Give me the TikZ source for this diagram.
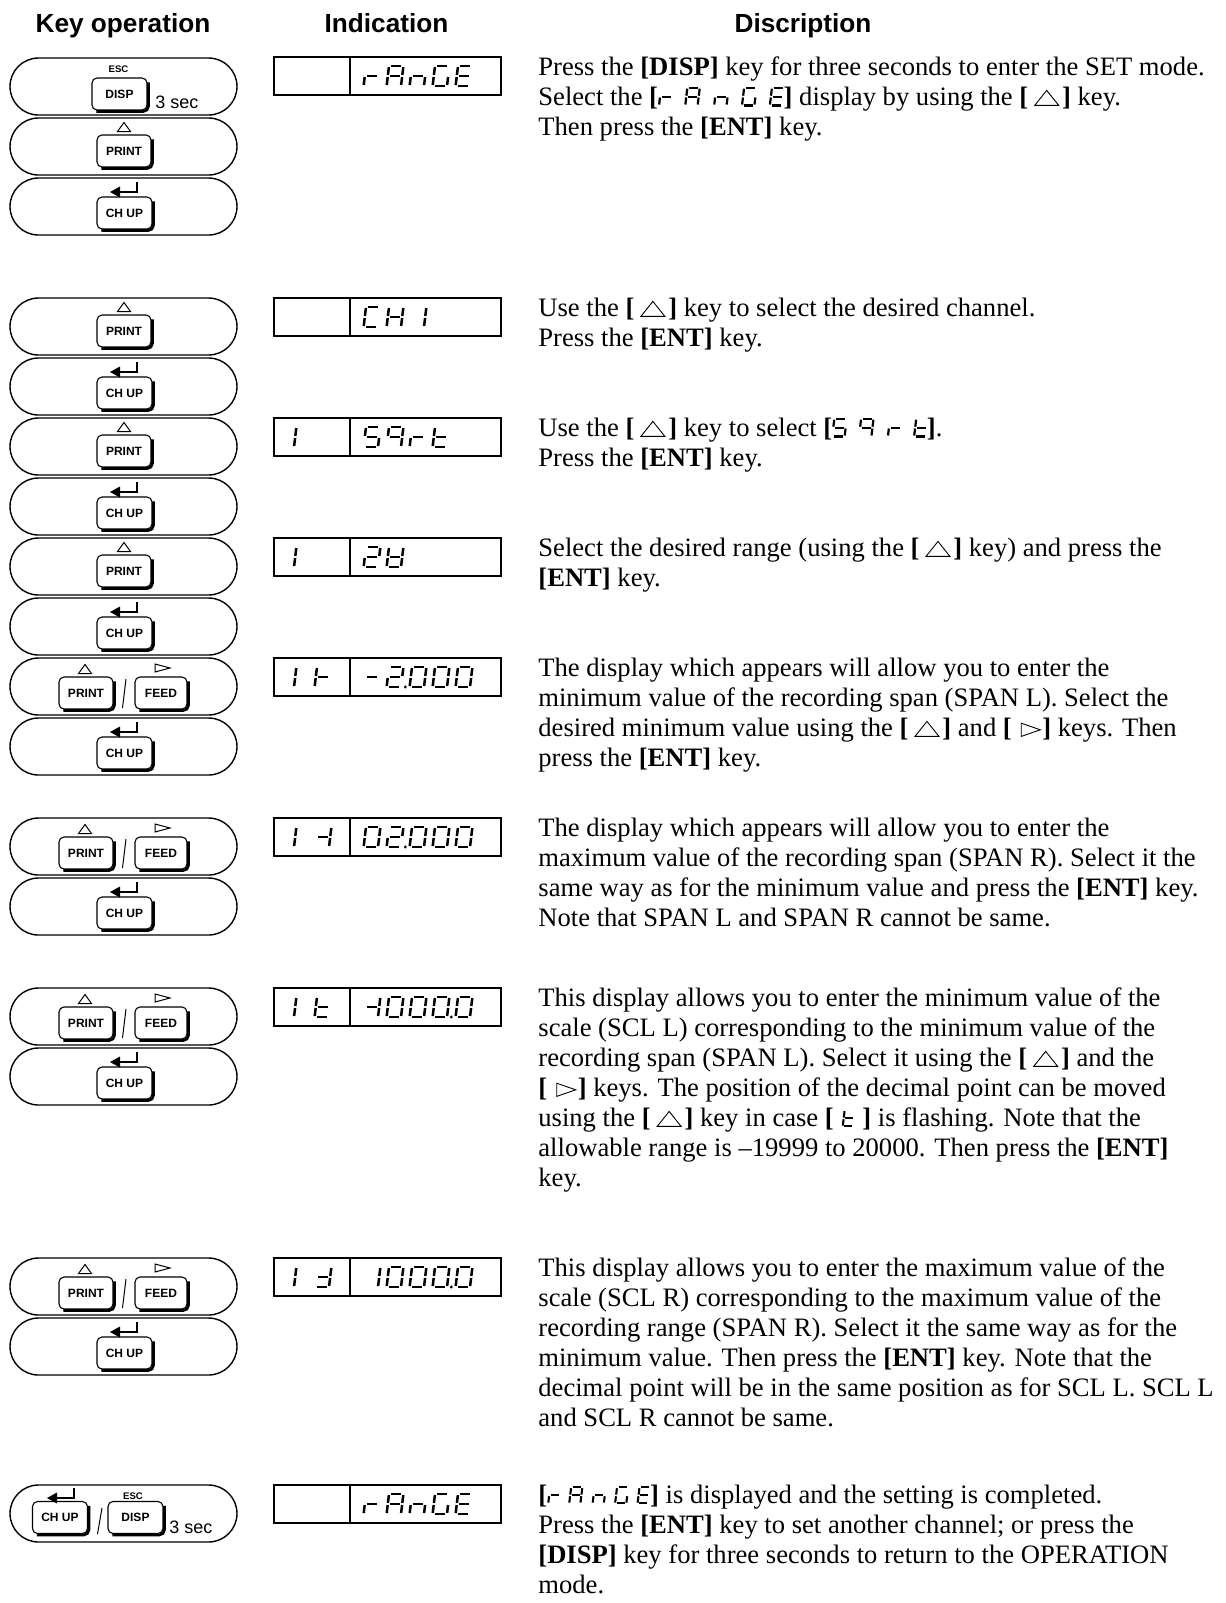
\documentclass[tikz,border=0pt]{standalone}
\usepackage{fontspec}
\setmainfont{Liberation Serif}
\setsansfont{Liberation Sans}
% seven-segment pieces (unit cell x in [-0.5,0.5], y in [-1,1])
\def\segpa{\draw (-0.36,1)--(0.36,1);}
\def\segpb{\draw (0.5,0.9)--(0.5,0.1);}
\def\segpc{\draw (0.5,-0.1)--(0.5,-0.9);}
\def\segpd{\draw (-0.36,-1)--(0.36,-1);}
\def\segpe{\draw (-0.5,-0.1)--(-0.5,-0.9);}
\def\segpf{\draw (-0.5,0.9)--(-0.5,0.1);}
\def\segpg{\draw (-0.36,0)--(0.36,0);}
\def\segpp{\fill (0.8,-1) circle (0.8pt);}
\def\segp{}
\newcommand\glyph[1]{\edef\glist{#1}\foreach \s in \glist {\csname segp\s\endcsname}}
\def\chr{e,g}
\def\cha{a,b,c,e,f,g}
\def\chn{c,e,g}
\def\chG{a,c,d,e,f}
\def\chE{a,d,e,f,g}
\def\chC{a,d,e,f}
\def\chH{b,c,e,f,g}
\def\chone{b,c}
\def\chfive{a,c,d,f,g}
\def\chq{a,b,c,f,g}
\def\cht{d,e,f,g}
\def\chtwo{a,b,d,e,g}
\def\chtwodot{a,b,d,e,g,p}
\def\chV{b,c,d,e,f,g}
\def\chminus{g}
\def\chzero{a,b,c,d,e,f}
\def\chzerodot{a,b,c,d,e,f,p}
\def\chSL{e,f,g}
\def\chSR{b,c,g}
\def\chdd{b,c,d,g}
% display glyph
\newcommand\dg[3]{\begin{scope}[shift={(#1,#2)},x=7.2pt,y=5pt,xslant=0.12,line width=1.25pt]\glyph{#3}\end{scope}}
% inline glyphs (normal and large)
\newcommand\sgi[1]{\tikz[baseline=0pt]{\begin{scope}[x=5.6pt,y=4pt,shift={(0.5,1)},xslant=0.12,line width=1.05pt]\glyph{#1}\end{scope}}}
\newcommand\sgL[1]{\tikz[baseline=0pt]{\begin{scope}[x=6.2pt,y=4.4pt,shift={(0.5,1)},xslant=0.12,line width=1.1pt]\glyph{#1}\end{scope}}}
\newcommand\sgsp{\hspace{4.2pt}}
\newcommand\sgspL{\hspace{6.2pt}}
\newcommand\tup{\tikz[baseline=0pt]\draw[line width=0.45pt] (0pt,0pt)--(12pt,0pt)--(6pt,7.5pt)--cycle;}
\newcommand\trt{\tikz[baseline=0pt]\draw[line width=0.45pt] (0pt,0pt)--(9.5pt,3.3pt)--(0pt,6.6pt)--cycle;}
\newcommand\kUp{\textbf{[}\hspace{3pt}\tup\hspace{1.5pt}\textbf{]}}
\newcommand\kRt{\textbf{[}\hspace{4.5pt}\trt\hspace{0.8pt}\textbf{]}}
\newcommand\kEnt{\textbf{[ENT]}}
\newcommand\kDisp{\textbf{[DISP]}}
\newcommand\kRange{\textbf{[}\sgi{\chr}\sgsp\sgi{\cha}\sgsp\sgi{\chn}\sgsp\sgi{\chG}\sgsp\sgi{\chE}\textbf{]}}
\newcommand\kRangeL{\textbf{[}\sgL{\chr}\sgspL\sgL{\cha}\sgspL\sgL{\chn}\sgspL\sgL{\chG}\sgspL\sgL{\chE}\textbf{]}}
\newcommand\kSqrt{\textbf{[}\sgL{\chfive}\sgspL\sgL{\chq}\sgspL\sgL{\chr}\sgspL\sgL{\cht}\textbf{]}}
\newcommand\kT{\textbf{[}\hspace{4pt}\sgi{\cht}\hspace{4pt}\textbf{]}}
% key drawing helpers
\newcommand\btn[5]{\node[keybtn, minimum width=#4] (#1) at (#2,#3) {#5};
 \draw[line width=1.3pt, rounded corners=2.5pt] ([shift={(0.45pt,-2.5pt)}]#1.north east) -- ([shift={(0.45pt,-0.45pt)}]#1.south east) -- ([shift={(2.5pt,-0.45pt)}]#1.south west);}
\newcommand\tri[2]{\draw[sym] (#1-6.5,#2+4.5)--(#1+6.5,#2+4.5)--(#1,#2-4.5)--cycle;}
\newcommand\rtri[2]{\draw[sym] (#1-7,#2-4)--(#1+8,#2)--(#1-7,#2+4)--cycle;}
\newcommand\enter[2]{\draw[arw] (#1+13,#2-10)--(#1+13,#2)--(#1-5,#2); \fill (#1-14,#2)--(#1-4,#2-5.5)--(#1-4,#2+5.5)--cycle;}
\newcommand\printoval[2]{\node[koval] (#1o) at (123.5,#2+28.5) {}; \tri{124}{#2+9} \btn{#1k}{124}{#2+33}{27pt}{PRINT}}
\newcommand\chupoval[2]{\node[koval] (#1o) at (123.5,#2+28.5) {}; \enter{124}{#2+14} \btn{#1k}{124.5}{#2+35}{27.5pt}{CH UP}}
\newcommand\pfoval[2]{\node[koval] (#1o) at (123.5,#2+28.5) {}; \tri{85}{#2+11} \rtri{162}{#2+10} \btn{#1p}{86}{#2+35}{27pt}{PRINT} \btn{#1f}{161}{#2+35}{26pt}{FEED} \draw[line width=0.5pt] (126,#2+21)--(122.5,#2+50);}
\newcommand\dispbox[1]{\draw[dframe] (274,#1) rectangle (501,#1+38); \draw[ddiv] (350,#1) -- (350,#1+38);}
\begin{document}
\begin{tikzpicture}[x=0.5pt,y=-0.5pt,
 koval/.style={draw, line width=0.7pt, rounded corners=14.25pt, minimum width=113.5pt, minimum height=28.5pt, inner sep=0pt},
 keybtn/.style={draw, line width=0.55pt, rounded corners=2.5pt, minimum height=16pt, inner sep=0pt, font=\sffamily\bfseries\fontsize{6}{7}\selectfont},
 esc/.style={inner sep=0pt, font=\sffamily\bfseries\fontsize{4.8}{6}\selectfont},
 sec/.style={inner sep=0pt, font=\sffamily\fontsize{9}{10}\selectfont},
 hdr/.style={inner sep=0pt, font=\sffamily\bfseries\fontsize{13.1}{15}\selectfont},
 desc/.style={anchor=north west, inner sep=0pt, align=left, font=\fontsize{13.3}{15}\selectfont},
 sym/.style={line width=0.5pt},
 arw/.style={line width=1.1pt},
 dframe/.style={line width=0.6pt},
 ddiv/.style={line width=1pt}]
\useasboundingbox[fill=white] (0,0) rectangle (1226,1603);
% headers
\node[hdr,anchor=base] (h1) at (123,32) {Key operation};
\node[hdr,anchor=base] (h2) at (386.5,32) {Indication};
\node[hdr,anchor=base] (h3) at (803,32) {Discription};
% ---------- section 1
\node[koval] (o1) at (123.5,86.5) {};
\node[esc] (esc1) at (118.5,69.5) {ESC};
\btn{k1}{119.5}{94}{27.5pt}{DISP}
\node[sec,anchor=base west] (sec1) at (155,108) {3 sec};
\printoval{pz}{118}
\chupoval{cz}{178}
\dispbox{57}
\dg{372}{76}{\chr}\dg{395}{76}{\cha}\dg{418}{76}{\chn}\dg{441}{76}{\chG}\dg{464}{76}{\chE}
\node[desc] (t1) at (538,54) {\strut Press the \kDisp{} key for three seconds to enter the SET mode.\\
Select the \kRangeL{} display by using the \kUp{} key.\\
Then press the \kEnt{} key.};
% ---------- section 2
\printoval{pa}{298}
\chupoval{ca}{358}
\dispbox{298}
\dg{372}{317}{\chC}\dg{395}{317}{\chH}\dg{418}{317}{\chone}
\node[desc] (t2) at (538,295) {\strut Use the \kUp{} key to select the desired channel.\\
Press the \kEnt{} key.};
% ---------- section 3
\printoval{pb}{418}
\chupoval{cb}{478}
\dispbox{418}
\dg{288}{437}{\chone}
\dg{372}{437}{\chfive}\dg{395}{437}{\chq}\dg{418}{437}{\chr}\dg{441}{437}{\cht}
\node[desc] (t3) at (538,415) {\strut Use the \kUp{} key to select \kSqrt.\\
Press the \kEnt{} key.};
% ---------- section 4
\printoval{pc}{538}
\chupoval{cc}{598}
\dispbox{538}
\dg{288}{557}{\chone}
\dg{372}{557}{\chtwo}\dg{395}{557}{\chV}
\node[desc] (t4) at (538,535) {\strut Select the desired range (using the \kUp{} key) and press the\\
\kEnt{} key.};
% ---------- section 5
\pfoval{fa}{658}
\chupoval{cd}{718}
\dispbox{658}
\dg{288}{677}{\chone}\dg{323}{677}{\chSL}
\dg{372}{677}{\chminus}\dg{395}{677}{\chtwodot}\dg{418}{677}{\chzero}\dg{441}{677}{\chzero}\dg{464}{677}{\chzero}
\node[desc] (t5) at (538,655) {\strut The display which appears will allow you to enter the\\
minimum value of the recording span (SPAN L). Select the\\
desired minimum value using the \kUp{} and \kRt{} keys. Then\\
press the \kEnt{} key.};
% ---------- section 6
\pfoval{fb}{818}
\chupoval{ce}{878}
\dispbox{818}
\dg{288}{837}{\chone}\dg{323}{837}{\chSR}
\dg{372}{837}{\chzero}\dg{395}{837}{\chtwodot}\dg{418}{837}{\chzero}\dg{441}{837}{\chzero}\dg{464}{837}{\chzero}
\node[desc] (t6) at (538,815) {\strut The display which appears will allow you to enter the\\
maximum value of the recording span (SPAN R). Select it the\\
same way as for the minimum value and press the \kEnt{} key.\\
Note that SPAN L and SPAN R cannot be same.};
% ---------- section 7
\pfoval{fc}{988}
\chupoval{cf}{1048}
\dispbox{988}
\dg{288}{1007}{\chone}\dg{323}{1007}{\cht}
\dg{372}{1007}{\chSR}\dg{395}{1007}{\chzero}\dg{418}{1007}{\chzero}\dg{441}{1007}{\chzerodot}\dg{464}{1007}{\chzero}
\node[desc] (t7) at (538,985) {\strut This display allows you to enter the minimum value of the\\
scale (SCL L) corresponding to the minimum value of the\\
recording span (SPAN L). Select it using the \kUp{} and the\\
\kRt{} keys. The position of the decimal point can be moved\\
using the \kUp{} key in case \kT{} is flashing. Note that the\\
allowable range is –19999 to 20000. Then press the \kEnt\\
key.};
% ---------- section 8
\pfoval{fd}{1258}
\chupoval{cg}{1318}
\dispbox{1258}
\dg{288}{1277}{\chone}\dg{323}{1277}{\chdd}
\dg{372}{1277}{\chone}\dg{395}{1277}{\chzero}\dg{418}{1277}{\chzero}\dg{441}{1277}{\chzerodot}\dg{464}{1277}{\chzero}
\node[desc] (t8) at (538,1255) {\strut This display allows you to enter the maximum value of the\\
scale (SCL R) corresponding to the maximum value of the\\
recording range (SPAN R). Select it the same way as for the\\
minimum value. Then press the \kEnt{} key. Note that the\\
decimal point will be in the same position as for SCL L. SCL L\\
and SCL R cannot be same.};
% ---------- section 9
\node[koval] (o9) at (123.5,1513.5) {};
\enter{61}{1498}
\btn{k9a}{60}{1517.5}{27.5pt}{CH UP}
\draw[line width=0.5pt] (102,1508)--(97.5,1534);
\node[esc] (esc9) at (133,1496) {ESC};
\btn{k9b}{135.5}{1517.5}{27.5pt}{DISP}
\node[sec,anchor=base west] (sec9) at (169,1533) {3 sec};
\dispbox{1485}
\dg{372}{1504}{\chr}\dg{395}{1504}{\cha}\dg{418}{1504}{\chn}\dg{441}{1504}{\chG}\dg{464}{1504}{\chE}
\node[desc] (t9) at (538,1482) {\strut\kRange{} is displayed and the setting is completed.\\
Press the \kEnt{} key to set another channel; or press the\\
\kDisp{} key for three seconds to return to the OPERATION\\
mode.};
\end{tikzpicture}
\end{document}
